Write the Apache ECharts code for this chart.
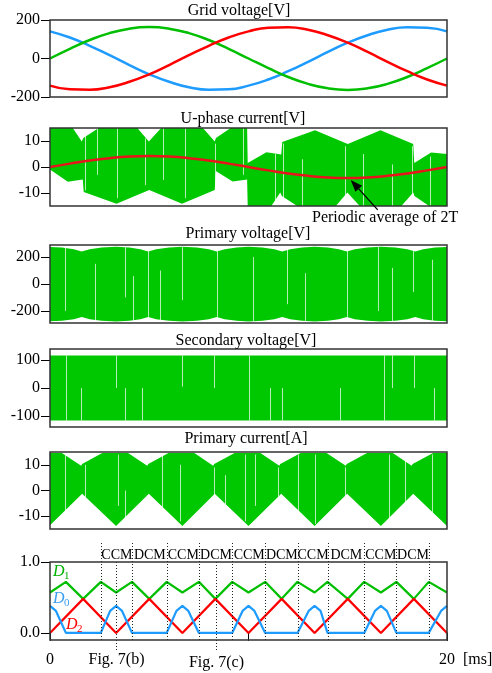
<!DOCTYPE html>
<html><head><meta charset="utf-8">
<script src="https://cdn.jsdelivr.net/npm/echarts@6/dist/echarts.min.js"></script>
<style>html,body{margin:0;padding:0;background:#fff}#c{width:492px;height:673px}</style>
</head><body><div id="c"></div>
<script>
// ---------- data ----------
const timeMs = [0,1,2,3,4,5,6,7,8,9,10,11,12,13,14,15,16,17,18,19,20];
const gridVoltageRed   = [-141,-160,-162,-149,-121,-82,-34,17,66,109,141,160,162,149,121,82,34,-17,-66,-109,-141];
const gridVoltageGreen = [0,50,96,132,155,163,155,132,96,50,0,-50,-96,-132,-155,-163,-155,-132,-96,-50,0];
const gridVoltageBlue  = [141,109,66,17,-34,-82,-121,-149,-162,-160,-141,-109,-66,-17,34,82,121,149,162,160,141];
const periodicAverage  = [0,1.3,2.5,3.4,4.0,4.2,4.0,3.4,2.5,1.3,0,-1.3,-2.5,-3.4,-4.0,-4.2,-4.0,-3.4,-2.5,-1.3,0];

const uCurrentUpper = [[0,15],[1.15,15],[1.6,9.8],[1.68,11.2],[2.45,15],[4.4,15],[4.98,9.8],[5.6,15],[7.7,15],[8.3,9.8],[8.36,11.2],[9.1,15],[9.93,15],[9.96,1.5],[10.9,5.7],[11.65,4.8],[11.7,9.6],[13.35,14.1],[15.0,8.8],[16.65,14.1],[18.3,8.8],[18.35,1.5],[19.2,5.6],[20,5.0]];
const uCurrentLower = [[0,-1],[0.9,-5.7],[1.65,-4.8],[1.7,-9.6],[3.35,-14.1],[5.0,-8.8],[6.65,-14.1],[8.3,-8.8],[8.35,-1.5],[9.2,-5.6],[9.93,-4.8],[9.96,-15],[11.15,-15],[11.6,-9.8],[11.68,-11.2],[12.45,-15],[14.4,-15],[14.98,-9.8],[15.6,-15],[17.7,-15],[18.3,-9.8],[18.36,-11.2],[19.1,-15],[20,-15]];
const uCurrentGaps = [[1.77,-9,12],[2.36,-3,15],[3.36,-12,15],[4.79,-7,11],[5.7,-5,15],[6.8,-12,15],[8.32,-8,9],[9.73,-3,15],[11.35,-15,5],[11.75,-15,9],[12.71,-15,3],[14.88,-15,8],[15.79,-15,5],[17.25,-15,1],[18.25,-15,8],[19.16,-15,4]];

const primVUpper = [[0,276],[0.6,272],[1.2,258],[1.6,241],[2.0,258],[2.6,272],[3.33,277],[4.0,272],[4.55,258],[4.95,241],[5.35,258],[6.0,272],[6.67,277],[7.4,272],[8.0,258],[8.4,241],[8.8,258],[9.4,272],[10.0,277],[10.7,272],[11.3,258],[11.7,241],[12.1,258],[12.7,272],[13.33,277],[14.0,272],[14.55,258],[14.96,241],[15.35,258],[16.0,272],[16.67,277],[17.4,272],[18.0,258],[18.4,241],[18.8,258],[19.4,272],[20,276]];
const primVLower = [[0,-277],[0.6,-273],[1.2,-262],[1.6,-246],[2.0,-262],[2.6,-273],[3.33,-278],[4.0,-273],[4.55,-262],[4.95,-246],[5.35,-262],[6.0,-273],[6.67,-278],[7.4,-273],[8.0,-262],[8.4,-246],[8.8,-262],[9.4,-273],[10.0,-278],[10.7,-273],[11.3,-262],[11.7,-246],[12.1,-262],[12.7,-273],[13.33,-278],[14.0,-273],[14.55,-262],[14.96,-246],[15.35,-262],[16.0,-273],[16.67,-278],[17.4,-273],[18.0,-262],[18.4,-246],[18.8,-262],[19.4,-273],[20,-277]];
const primVGaps = [[0.76,-200,276],[2.27,-276,150],[3.78,-100,276],[4.19,-276,60],[4.96,-245,245],[5.55,-276,100],[6.64,-120,276],[8.4,-245,245],[10.23,-276,200],[11.95,-150,276],[12.86,-276,80],[14.96,-245,245],[16.54,-200,276],[17.25,-276,120],[18.3,-60,245],[19.25,-276,180]];

const secVUpper = [[0,117],[20,117]];
const secVLower = [[0,-117],[20,-117]];
const secVGaps = [[0.79,-117,117],[1.56,-117,0],[3.33,0,117],[3.78,-117,0],[4.62,-117,0],[6.64,5,117],[8.24,0,117],[10.0,-117,117],[11.1,-117,0],[11.68,-117,0],[14.62,-117,0],[16.81,-117,117],[17.23,0,117],[18.32,0,117],[19.33,-117,0]];

const primIUpper = [[0,14.6],[0.6,14.6],[1.57,9.6],[1.62,10.3],[2.63,14.6],[3.93,14.6],[4.9,9.6],[4.95,10.3],[5.97,14.6],[7.27,14.6],[8.22,9.6],[8.27,10.3],[9.3,14.6],[10.6,14.6],[11.55,9.6],[11.6,10.3],[12.63,14.6],[13.93,14.6],[14.9,9.6],[14.95,10.3],[15.97,14.6],[17.27,14.6],[18.22,9.6],[18.27,10.3],[19.3,14.6],[20,14.6]];
const primILower = [[0,-13.5],[1.62,-1.3],[3.33,-13.8],[4.98,-1.3],[6.67,-13.8],[8.3,-1.3],[10.0,-13.8],[11.65,-1.3],[13.33,-13.8],[14.97,-1.3],[16.67,-13.8],[18.3,-1.3],[20,-13.8]];
const primIGaps = [[0.76,-12,14],[1.77,-8,10],[3.44,-6,14],[3.78,-13,0],[5.63,-10,14],[6.56,-12,10],[8.24,-4,9],[8.82,-10,6],[9.83,-12,14],[10.34,-6,14],[11.51,-4,9],[12.5,-12,14],[13.36,-13,14],[14.88,-3,9],[17.06,-12,14],[17.9,-7,13],[19.25,-12,14]];

const dutyD0 = [[0,0.38],[0.3,0.31],[0.8,0],[2.56,0],[3.03,0.31],[3.33,0.38],[3.63,0.31],[4.13,0],[5.88,0],[6.37,0.31],[6.67,0.38],[6.97,0.31],[7.5,0],[9.18,0],[9.7,0.31],[10,0.38],[10.3,0.31],[10.84,0],[12.47,0],[13.03,0.31],[13.33,0.38],[13.63,0.31],[13.98,0],[15.83,0],[16.37,0.31],[16.67,0.38],[16.97,0.31],[17.45,0],[19.08,0],[19.7,0.31],[20,0.38]];
const dutyD1 = [[0,0.57],[0.8,0.72],[1.67,0.48],[2.56,0.72],[3.33,0.57],[4.13,0.72],[5.0,0.48],[5.88,0.72],[6.67,0.57],[7.5,0.72],[8.33,0.48],[9.18,0.72],[10.0,0.57],[10.84,0.72],[11.67,0.48],[12.47,0.72],[13.33,0.57],[13.98,0.72],[15.0,0.48],[15.83,0.72],[16.67,0.57],[17.45,0.72],[18.33,0.48],[19.08,0.72],[20,0.57]];
const dutyD2 = [[0,0],[1.67,0.48],[3.33,0],[5.0,0.48],[6.67,0],[8.33,0.48],[10,0],[11.67,0.48],[13.33,0],[15,0.48],[16.67,0],[18.33,0.48],[20,0]];

const modeBounds = [2.56,4.13,5.88,7.5,9.18,10.84,12.47,13.98,15.83,17.45,19.08];
const modeLabels = ['CCM','DCM','CCM','DCM','CCM','DCM','CCM','DCM','CCM','DCM'];
const figMarkTimes = [3.34, 8.37];
const figMarkLabels = ['Fig. 7(b)', 'Fig. 7(c)'];
const panelTitles = ['Grid voltage[V]','U-phase current[V]','Primary voltage[V]','Secondary voltage[V]','Primary current[A]'];
const yTickValues = [[-200,0,200],[-10,0,10],[-200,0,200],[-100,0,100],[-10,0,10],[0,1]];
const xTickValues = [0,10,20];
const xLabelValues = [0,20];

// ---------- layout / style ----------
const FONT = "'Liberation Serif','Times New Roman',serif";
const GREEN = '#00c800', LGREEN = '#00bf00', RED = '#ff0000', BLUE = '#1e9bff', AVG_RED = '#e8141c';
const gridBoxes = [[20,77],[128,78],[245,78],[349,78],[452,77],[562,78]];
const yRanges = [[-200,200],[-15,15],[-290,290],[-140,140],[-15,15],[-0.1,1.0]];
const titlePos = [[239,11],[243,119],[248,234],[246,341],[246,439]];

const chart = echarts.init(document.getElementById('c'), null, {renderer:'canvas'});
const pairs = arr => timeMs.map((t,i)=>[t, arr[i]]);

const grid = gridBoxes.map(b=>({left:50, width:397, top:b[0], height:b[1]}));
const xAxis = gridBoxes.map((b,i)=>({
  type:'value', gridIndex:i, min:0, max:20, show: i===5,
  axisLine:{show:false}, splitLine:{show:false},
  axisTick:{show:true, length:8, lineStyle:{color:'#000'}, customValues:xTickValues},
  axisLabel:{customValues:xLabelValues, margin:12, fontFamily:FONT, fontSize:16, color:'#000'}
}));
const yAxis = gridBoxes.map((b,i)=>{
  const lab = {customValues:yTickValues[i], margin:10, fontFamily:FONT, fontSize:16, color:'#000'};
  if (i===5) lab.formatter = v => Number(v).toFixed(1);
  return {type:'value', gridIndex:i, min:yRanges[i][0], max:yRanges[i][1],
    axisLine:{show:false}, splitLine:{show:false},
    axisTick:{show:true, length:9, lineStyle:{color:'#000'}, customValues:yTickValues[i]},
    axisLabel:lab};
});

const line = (gi, data, color, width, smooth, z) => ({type:'line', xAxisIndex:gi, yAxisIndex:gi, data, symbol:'none', showSymbol:false, smooth, z:z||3, lineStyle:{color, width}, itemStyle:{color}, silent:true});
const band = (gi, upper, lower) => ({type:'custom', xAxisIndex:gi, yAxisIndex:gi, data:[[0,0]], clip:true, silent:true, z:1,
  renderItem:(params, api)=>{
    const pts = upper.map(p=>api.coord(p)).concat(lower.slice().reverse().map(p=>api.coord(p)));
    return {type:'polygon', shape:{points:pts}, style:{fill:GREEN}};
  }});
const gaps = (gi, arr) => ({type:'custom', xAxisIndex:gi, yAxisIndex:gi, data:arr, clip:true, silent:true, z:2,
  encode:{x:0, y:[1,2]},
  renderItem:(params, api)=>{
    const a = api.coord([api.value(0), api.value(1)]);
    const b = api.coord([api.value(0), api.value(2)]);
    const x = Math.round(a[0]) + 0.5;
    return {type:'line', shape:{x1:x, y1:a[1], x2:x, y2:b[1]}, style:{stroke:'#ffffff', lineWidth:1, opacity:0.7}};
  }});

const series = [
  line(0, pairs(gridVoltageBlue), BLUE, 2.5, true),
  line(0, pairs(gridVoltageGreen), LGREEN, 2.5, true),
  line(0, pairs(gridVoltageRed), RED, 2.5, true),
  band(1, uCurrentUpper, uCurrentLower), gaps(1, uCurrentGaps),
  line(1, pairs(periodicAverage), AVG_RED, 2.5, true, 5),
  band(2, primVUpper, primVLower), gaps(2, primVGaps),
  band(3, secVUpper, secVLower), gaps(3, secVGaps),
  band(4, primIUpper, primILower), gaps(4, primIGaps),
  line(5, dutyD1, LGREEN, 2.2, false),
  line(5, dutyD2, RED, 2.2, false),
  line(5, dutyD0, BLUE, 2.2, false)
];

chart.setOption({animation:false, backgroundColor:'#fff', grid, xAxis, yAxis, series});

// ---------- annotations (positions from the library's scales) ----------
const P = (gi, pt) => chart.convertToPixel({gridIndex:gi}, pt);
const txt = (text, x, y, opt) => Object.assign({type:'text', x, y, z:120, silent:true,
  style:Object.assign({text, fontFamily:FONT, fontSize:16, fill:'#000', align:'center', textAlign:'center', verticalAlign:'middle', textVerticalAlign:'middle'}, (opt||{}).style||{})}, {});
const g = [];

// frames
gridBoxes.forEach((b,i)=>{
  const tl = P(i,[0,yRanges[i][1]]), br = P(i,[20,yRanges[i][0]]);
  g.push({type:'rect', z:100, silent:true, shape:{x:tl[0], y:tl[1], width:br[0]-tl[0], height:br[1]-tl[1]}, style:{fill:'none', stroke:'#333', lineWidth:1.5}});
});
// titles
panelTitles.forEach((t,i)=>g.push(txt(t, titlePos[i][0], titlePos[i][1])));

// periodic average annotation
const tip = P(1,[15.15,-4.2]); tip[1] += 2;
const tail = [tip[0]+27, tip[1]+30];
const dx = tip[0]-tail[0], dy = tip[1]-tail[1], L = Math.hypot(dx,dy), ux = dx/L, uy = dy/L;
const base = [tip[0]-ux*12, tip[1]-uy*12];
g.push({type:'line', z:110, silent:true, shape:{x1:tail[0], y1:tail[1], x2:base[0], y2:base[1]}, style:{stroke:'#000', lineWidth:1.3}});
g.push({type:'polygon', z:110, silent:true, shape:{points:[tip,[base[0]-uy*4.5, base[1]+ux*4.5],[base[0]+uy*4.5, base[1]-ux*4.5]]}, style:{fill:'#000'}});
g.push(txt('Periodic average of 2T', 312, 218, {style:{align:'left', textAlign:'left'}}));

// mode boundaries and labels
const yTop5 = P(5,[0,1.0])[1], yBot5 = P(5,[0,-0.1])[1];
modeBounds.forEach(t=>{
  const x = Math.round(P(5,[t,0])[0]) + 0.5;
  g.push({type:'line', z:90, silent:true, shape:{x1:x, y1:yTop5-19, x2:x, y2:yBot5}, style:{stroke:'#222', lineWidth:1, lineDash:[1,2]}});
});
modeLabels.forEach((m,i)=>{
  const x = (P(5,[modeBounds[i],0])[0] + P(5,[modeBounds[i+1],0])[0]) / 2;
  g.push(txt(m, x+0.5, yTop5-7, {style:{fontSize:14}}));
});
const figLabelY = [660, 663];
figMarkTimes.forEach((t,i)=>{
  const x = Math.round(P(5,[t,0])[0]) + 0.5;
  g.push({type:'line', z:90, silent:true, shape:{x1:x, y1:yTop5, x2:x, y2:yBot5+11}, style:{stroke:'#222', lineWidth:1, lineDash:[1,2]}});
  g.push(txt(figMarkLabels[i], x, figLabelY[i]));
});
// unit
g.push(txt('[ms]', 463, 660, {style:{align:'left', textAlign:'left'}}));
// D labels
const dLab = (name, sub, color, x, y) => {
  g.push(txt(name, x, y, {style:{align:'left', textAlign:'left', fontStyle:'italic', fontSize:16, fill:color}}));
  g.push(txt(sub, x+11, y+4, {style:{align:'left', textAlign:'left', fontSize:11, fill:color}}));
};
dLab('D','1', '#00b000', 53, 572);
dLab('D','0', '#3a9ef0', 53, 599);
dLab('D','2', RED, 66, 625);

chart.setOption({graphic:{elements:g}});
</script>
</body></html>
